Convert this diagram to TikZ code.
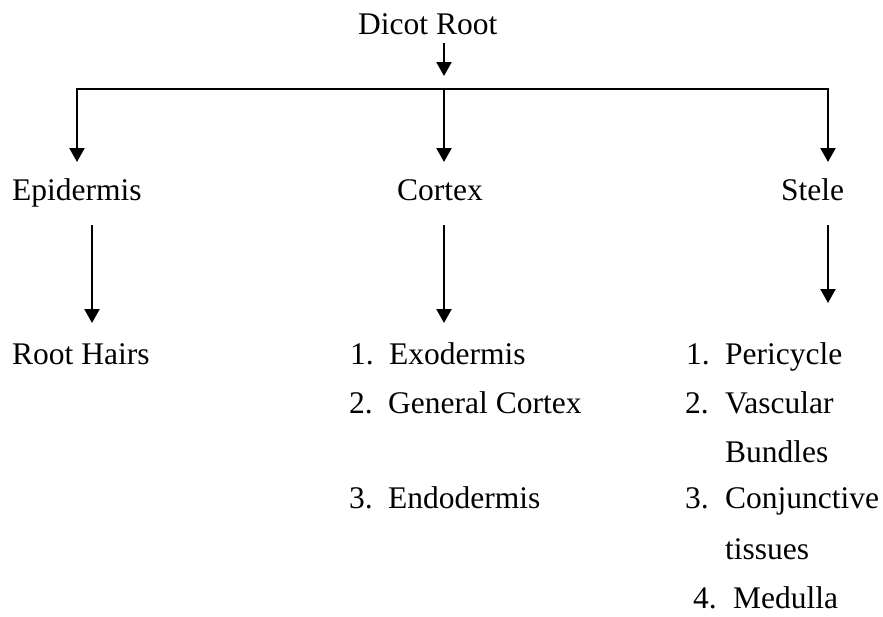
\documentclass[tikz,border=0pt]{standalone}
\usepackage{fontspec}
\setmainfont{Liberation Serif}
\usetikzlibrary{arrows.meta}
\begin{document}
\begin{tikzpicture}[x=1pt,y=-1pt,
  lbl/.style={anchor=base west,inner sep=0pt,font=\fontsize{31.5}{36}\selectfont},
  conn/.style={line width=2.2pt},
  arr/.style={conn,-{Triangle[width=15pt,length=14pt]}}]
\useasboundingbox (0,0) rectangle (883,616);
% title
\node[lbl] (root) at (358,34) {Dicot Root};
\coordinate (r0) at (444,43);
\coordinate (r1) at (444,76);
\draw[arr] (r0) -- (r1);
% branch line
\coordinate (hl) at (76,89);
\coordinate (hr) at (829,89);
\draw[conn] (hl) -- (hr);
\coordinate (e0) at (77,88);  \coordinate (e1) at (77,162);
\coordinate (c0) at (444,88); \coordinate (c1) at (444,162);
\coordinate (s0) at (828,88); \coordinate (s1) at (828,162);
\draw[arr] (e0) -- (e1);
\draw[arr] (c0) -- (c1);
\draw[arr] (s0) -- (s1);
% level 1
\node[lbl] (epi) at (12,200) {Epidermis};
\node[lbl] (cor) at (397,200) {Cortex};
\node[lbl] (ste) at (781,200) {Stele};
% second arrows
\coordinate (e2) at (92,225);  \coordinate (e3) at (92,323);
\coordinate (c2) at (444,225); \coordinate (c3) at (444,323);
\coordinate (s2) at (828,225); \coordinate (s3) at (828,303);
\draw[arr] (e2) -- (e3);
\draw[arr] (c2) -- (c3);
\draw[arr] (s2) -- (s3);
% level 2
\node[lbl] (hairs) at (12,364) {Root Hairs};
\node[lbl] (n1c) at (350,364) {1.};
\node[lbl] (exo) at (389,364) {Exodermis};
\node[lbl] (n2c) at (349,413) {2.};
\node[lbl] (gc) at (388,413) {General Cortex};
\node[lbl] (n3c) at (349,508) {3.};
\node[lbl] (endo) at (388,508) {Endodermis};
\node[lbl] (n1s) at (686,364) {1.};
\node[lbl] (peri) at (725,364) {Pericycle};
\node[lbl] (n2s) at (685,413) {2.};
\node[lbl] (vasc) at (725,413) {Vascular};
\node[lbl] (bund) at (725,462) {Bundles};
\node[lbl] (n3s) at (685,508) {3.};
\node[lbl] (conj) at (725,508) {Conjunctive};
\node[lbl] (tiss) at (725,559) {tissues};
\node[lbl] (n4s) at (693,608) {4.};
\node[lbl] (med) at (733,608) {Medulla};
\end{tikzpicture}
\end{document}
